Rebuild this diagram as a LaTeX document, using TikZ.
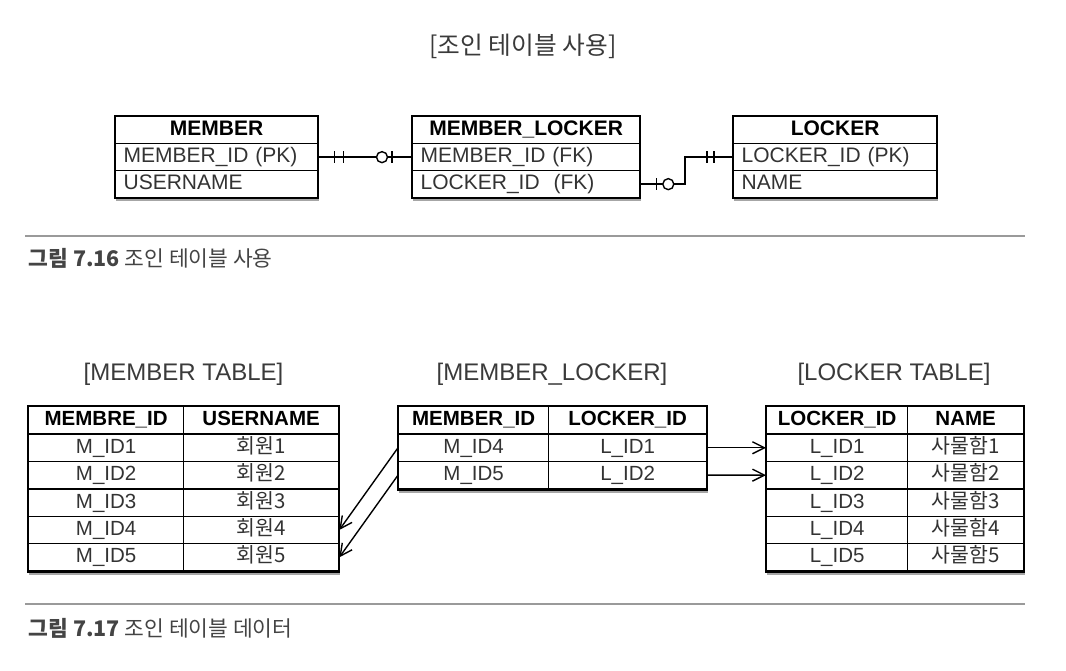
\documentclass[tikz,border=0pt]{standalone}
\usepackage{fontspec}
\setmainfont{Liberation Sans}
\newfontfamily\kr{Noto Sans CJK KR}
\usetikzlibrary{calc,shadows,fit,backgrounds,arrows.meta}
\definecolor{txt}{HTML}{333333}
\definecolor{titlegray}{HTML}{3A3A3A}
\definecolor{capgray}{HTML}{444444}
\definecolor{sepgray}{HTML}{9A9A9A}
\begin{document}
\begin{tikzpicture}[x=1pt,y=-1pt,
  cell/.style={draw, line width=1.3pt, inner ysep=0pt, inner xsep=8pt, anchor=north west,
    minimum height=27pt, text height=15pt, text depth=4pt},
  erhead/.style={cell, font=\bfseries\fontsize{21}{21}\selectfont, text width=#1, align=center},
  errow/.style={cell, font=\fontsize{21}{21}\selectfont, text=txt, text width=#1, align=left},
  tcell/.style={draw, line width=1.3pt, inner sep=0pt, anchor=north west,
    minimum height=27.4pt, minimum width=#1, text height=15pt, text depth=4pt,
    font=\fontsize{20.5}{20.5}\selectfont, text=txt},
  thead/.style={tcell=#1, font=\bfseries\fontsize{20.5}{20.5}\selectfont, text=black},
  frame/.style={draw, line width=2pt, fill=white, inner sep=0pt,
    drop shadow={shadow xshift=1pt, shadow yshift=-3pt, opacity=.35, fill=black}},
  conn/.style={line width=1.4pt},
  arr/.style={line width=1.4pt, -{Straight Barb[length=12pt,width=12pt,line width=1.4pt]}},
  title/.style={text=titlegray, font=\fontsize{24}{24}\selectfont},
  caption/.style={anchor=base west, text=capgray, font=\kr\fontsize{21.5}{21.5}\selectfont},
  sepline/.style={draw=sepgray, line width=1.1pt}
]
\useasboundingbox (0,0) rectangle (1066,670);

% ---------- top ER diagram ----------
\node[text=titlegray, font=\kr\fontsize{24.7}{24.7}\selectfont] (toptitle) at (523,46) {[조인 테이블 사용]};

\node[erhead=186pt] (m0) at (115,116) {MEMBER};
\node[errow=186pt] (m1) at (115,143) {MEMBER\_ID (PK)};
\node[errow=186pt] (m2) at (115,170) {USERNAME};

\node[erhead=211pt] (ml0) at (412,116) {MEMBER\_LOCKER};
\node[errow=211pt] (ml1) at (412,143) {MEMBER\_ID (FK)};
\node[errow=211pt] (ml2) at (412,170) {LOCKER\_ID\ \ (FK)};

\node[erhead=187pt] (l0) at (733,116) {LOCKER};
\node[errow=187pt] (l1) at (733,143) {LOCKER\_ID (PK)};
\node[errow=187pt] (l2) at (733,170) {NAME};

\begin{scope}[on background layer]
  \node[frame, fit=(m0)(m2)] (mframe) {};
  \node[frame, fit=(ml0)(ml2)] (mlframe) {};
  \node[frame, fit=(l0)(l2)] (lframe) {};
\end{scope}

% connector MEMBER -- MEMBER_LOCKER
\draw[conn] (m1.east) -- (ml1.west);
\draw[conn] ($(m1.east)+(16,-6)$) -- ++(0,12);
\draw[conn] ($(m1.east)+(25,-6)$) -- ++(0,12);
\draw[conn] ($(ml1.west)+(-20,-6)$) -- ++(0,12);
\draw[conn, fill=white] ($(ml1.west)+(-30,0)$) circle[radius=5.5pt];

% connector MEMBER_LOCKER -- LOCKER
\coordinate (bend) at (685,0);
\draw[conn] (ml2.east) -- (ml2.east -| bend) -- (l1.west -| bend) -- (l1.west);
\draw[conn] ($(ml2.east)+(16,-6)$) -- ++(0,12);
\draw[conn, fill=white] ($(ml2.east)+(28,0)$) circle[radius=5.5pt];
\draw[conn] ($(l1.west)+(-26,-6)$) -- ++(0,12);
\draw[conn] ($(l1.west)+(-19,-6)$) -- ++(0,12);

\draw[sepline] (25,236) coordinate (s1a) -- (1025,236) coordinate (s1b);
\node[caption] (cap1) at (25,266) {\textbf{그림 7.16} 조인 테이블 사용};

% ---------- bottom tables ----------
\node[title] (t1) at (183.5,374) {[MEMBER TABLE]};
\node[title] (t2) at (552,374) {[MEMBER\_LOCKER]};
\node[title] (t3) at (894,374) {[LOCKER TABLE]};

% member table
\node[thead=155pt] (mt0a) at (28,406) {MEMBRE\_ID};
\node[thead=155pt] (mt0b) at (183,406) {USERNAME};
\foreach \i in {1,...,5}{
  \node[tcell=155pt] (mt\i a) at (28,{406+27.4*\i}) {M\_ID\i};
  \node[tcell=155pt] (mt\i b) at (183,{406+27.4*\i}) {\kr 회원\i};
}

% member_locker table
\node[thead=150pt] (ml0a) at (398,406) {MEMBER\_ID};
\node[thead=158pt] (ml0b) at (548,406) {LOCKER\_ID};
\node[tcell=150pt] (ml1a) at (398,433.4) {M\_ID4};
\node[tcell=158pt] (ml1b) at (548,433.4) {L\_ID1};
\node[tcell=150pt] (ml2a) at (398,460.8) {M\_ID5};
\node[tcell=158pt] (ml2b) at (548,460.8) {L\_ID2};

% locker table
\node[thead=141pt] (lt0a) at (766,406) {LOCKER\_ID};
\node[thead=116pt] (lt0b) at (907,406) {NAME};
\foreach \i in {1,...,5}{
  \node[tcell=141pt] (lt\i a) at (766,{406+27.4*\i}) {L\_ID\i};
  \node[tcell=116pt] (lt\i b) at (907,{406+27.4*\i}) {\kr 사물함\i};
}

\begin{scope}[on background layer]
  \node[frame, fit=(mt0a)(mt5b)] (mtframe) {};
  \node[frame, fit=(ml0a)(ml2b)] (mltframe) {};
  \node[frame, fit=(lt0a)(lt5b)] (ltframe) {};
\end{scope}

\draw[arr] (ml1a.west) -- (mt4b.east);
\draw[arr] (ml2a.west) -- (mt5b.east);
\draw[arr] (ml1b.east) -- (lt1a.west);
\draw[arr] (ml2b.east) -- (lt2a.west);

\draw[sepline] (25,604) coordinate (s2a) -- (1025,604) coordinate (s2b);
\node[caption] (cap2) at (25,636) {\textbf{그림 7.17} 조인 테이블 데이터};
\end{tikzpicture}
\end{document}
